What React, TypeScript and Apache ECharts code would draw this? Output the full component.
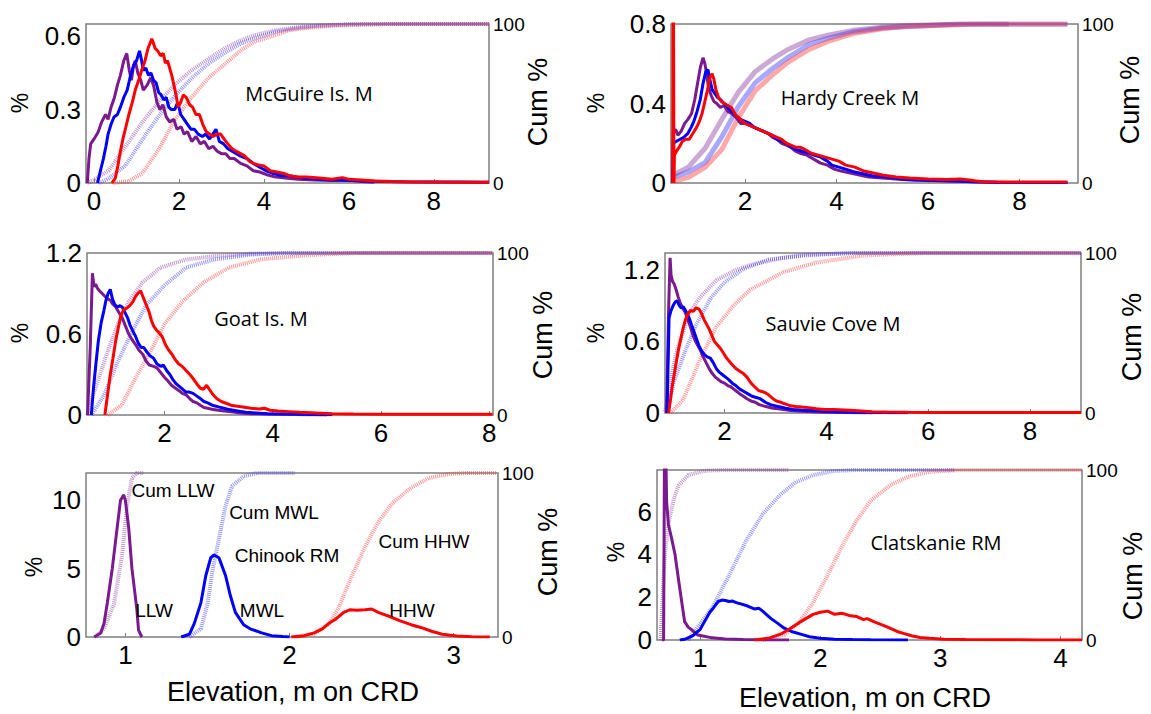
import { useEffect, useRef } from 'react';
import * as echarts from 'echarts';

type Pt = [number, number];

// ---------- Panel 1: McGuire Is. M ----------
const mcgLLW: Pt[] = [[-0.16,0],[-0.12,0.1],[-0.08,0.16],[0.0,0.18],[0.1,0.21],[0.18,0.25],[0.27,0.28],[0.33,0.26],[0.4,0.31],[0.48,0.35],[0.55,0.4],[0.62,0.44],[0.7,0.5],[0.77,0.53],[0.83,0.46],[0.88,0.42],[0.93,0.48],[0.97,0.5],[1.03,0.45],[1.1,0.42],[1.16,0.38],[1.25,0.4],[1.33,0.43],[1.4,0.4],[1.48,0.33],[1.55,0.3],[1.62,0.32],[1.7,0.27],[1.78,0.25],[1.88,0.26],[1.95,0.22],[2.05,0.23],[2.12,0.2],[2.2,0.21],[2.3,0.17],[2.4,0.19],[2.5,0.16],[2.6,0.17],[2.7,0.14],[2.8,0.15],[2.9,0.13],[3.0,0.12],[3.1,0.12],[3.2,0.1],[3.3,0.1],[3.45,0.08],[3.6,0.07],[3.75,0.05],[3.9,0.045],[4.05,0.035],[4.25,0.025],[4.5,0.02],[4.8,0.015],[5.2,0.012],[5.6,0.01],[6.0,0.012],[6.3,0.006],[6.6,0.003]];
const mcgMWL: Pt[] = [[0.08,0],[0.15,0.05],[0.22,0.1],[0.28,0.15],[0.33,0.2],[0.4,0.24],[0.47,0.27],[0.55,0.28],[0.62,0.31],[0.7,0.35],[0.78,0.38],[0.86,0.44],[0.93,0.48],[1.0,0.5],[1.07,0.54],[1.12,0.5],[1.16,0.46],[1.22,0.47],[1.28,0.44],[1.34,0.45],[1.4,0.42],[1.46,0.41],[1.52,0.37],[1.58,0.36],[1.64,0.34],[1.7,0.35],[1.76,0.31],[1.82,0.3],[1.9,0.3],[1.97,0.33],[2.04,0.28],[2.12,0.26],[2.2,0.24],[2.28,0.22],[2.36,0.22],[2.45,0.2],[2.55,0.19],[2.63,0.2],[2.72,0.18],[2.8,0.2],[2.87,0.22],[2.95,0.17],[3.05,0.16],[3.15,0.14],[3.25,0.13],[3.35,0.12],[3.45,0.11],[3.6,0.1],[3.75,0.08],[3.9,0.065],[4.05,0.05],[4.2,0.04],[4.4,0.03],[4.6,0.03],[4.75,0.025],[5.0,0.018],[5.3,0.015],[5.6,0.012],[6.0,0.01],[6.4,0.008],[6.8,0.006],[7.3,0.005],[8.0,0.004],[8.6,0.004],[9.3,0.003]];
const mcgHHW: Pt[] = [[0.42,0],[0.5,0.02],[0.56,0.07],[0.62,0.13],[0.68,0.18],[0.75,0.23],[0.82,0.28],[0.9,0.33],[0.97,0.38],[1.05,0.42],[1.12,0.46],[1.2,0.5],[1.27,0.55],[1.36,0.59],[1.4,0.57],[1.44,0.55],[1.5,0.54],[1.57,0.52],[1.63,0.53],[1.68,0.49],[1.73,0.5],[1.78,0.47],[1.83,0.44],[1.88,0.4],[1.93,0.36],[1.98,0.31],[2.04,0.33],[2.1,0.36],[2.17,0.35],[2.25,0.32],[2.32,0.31],[2.4,0.28],[2.48,0.28],[2.56,0.24],[2.64,0.21],[2.72,0.2],[2.8,0.19],[2.9,0.2],[2.98,0.2],[3.06,0.18],[3.15,0.16],[3.25,0.14],[3.35,0.13],[3.45,0.12],[3.55,0.11],[3.65,0.09],[3.75,0.08],[3.85,0.075],[4.0,0.07],[4.15,0.05],[4.3,0.045],[4.45,0.04],[4.6,0.03],[4.8,0.025],[5.0,0.025],[5.3,0.02],[5.6,0.015],[5.85,0.022],[6.0,0.015],[6.3,0.012],[6.6,0.008],[7.0,0.006],[7.5,0.004],[8.0,0.004],[8.5,0.003],[9.3,0.003]];
const mcgLLWCum: Pt[] = [[-0.15,0],[0.0,2],[0.35,8],[0.74,23],[1.13,38],[1.52,51],[1.91,62],[2.3,71],[2.69,78],[3.09,85],[3.48,90],[3.79,93],[4.26,96],[4.8,98],[5.25,99],[6.07,100],[9.3,100]];
const mcgMWLCum: Pt[] = [[0.12,0],[0.35,3],[0.74,11],[1.13,27],[1.52,42],[1.91,55],[2.3,66],[2.69,75],[3.09,82],[3.48,88],[3.79,91],[4.26,95],[4.8,97.5],[5.25,98.8],[6.07,99.7],[7.0,100],[9.3,100]];
const mcgHHWCum: Pt[] = [[0.45,0],[0.8,1],[1.13,6],[1.52,21],[1.91,40],[2.3,54],[2.69,66],[3.09,75],[3.48,84],[3.79,89],[4.26,93],[4.59,96],[5.0,97.5],[5.66,99],[6.9,100],[9.3,100]];

// ---------- Panel 2: Hardy Creek M ----------
const hcLLW: Pt[] = [[0.42,0],[0.43,0.25],[0.48,0.27],[0.53,0.24],[0.6,0.26],[0.68,0.3],[0.75,0.32],[0.83,0.35],[0.9,0.42],[0.96,0.5],[1.02,0.58],[1.08,0.63],[1.12,0.6],[1.16,0.55],[1.2,0.48],[1.26,0.44],[1.32,0.41],[1.38,0.4],[1.46,0.38],[1.54,0.39],[1.62,0.36],[1.7,0.35],[1.8,0.33],[1.9,0.3],[2.0,0.3],[2.1,0.29],[2.2,0.28],[2.3,0.27],[2.4,0.26],[2.5,0.25],[2.6,0.23],[2.7,0.22],[2.8,0.2],[2.9,0.19],[3.0,0.18],[3.1,0.16],[3.2,0.15],[3.35,0.14],[3.5,0.12],[3.65,0.1],[3.8,0.09],[3.95,0.07],[4.1,0.06],[4.3,0.05],[4.5,0.04],[4.7,0.03],[5.0,0.025],[5.3,0.02],[5.6,0.015],[6.0,0.012],[6.4,0.01],[6.8,0.008],[7.2,0.005],[7.7,0.003]];
const hcMWL: Pt[] = [[0.42,0],[0.43,0.2],[0.5,0.21],[0.58,0.22],[0.66,0.23],[0.75,0.25],[0.82,0.28],[0.88,0.31],[0.95,0.36],[1.02,0.42],[1.08,0.5],[1.14,0.56],[1.19,0.57],[1.23,0.52],[1.28,0.47],[1.34,0.45],[1.4,0.43],[1.46,0.42],[1.54,0.4],[1.62,0.38],[1.7,0.36],[1.8,0.34],[1.9,0.32],[2.0,0.31],[2.1,0.3],[2.2,0.28],[2.3,0.27],[2.4,0.26],[2.5,0.25],[2.6,0.24],[2.7,0.22],[2.8,0.21],[2.9,0.2],[3.0,0.18],[3.1,0.17],[3.25,0.16],[3.4,0.15],[3.5,0.14],[3.65,0.13],[3.8,0.11],[3.9,0.09],[4.05,0.08],[4.2,0.07],[4.4,0.055],[4.6,0.045],[4.8,0.035],[5.1,0.03],[5.4,0.02],[5.8,0.015],[6.2,0.012],[6.6,0.01],[7.0,0.006],[7.5,0.004],[8.0,0.003],[8.5,0.002],[9.05,0.002]];
const hcHHW: Pt[] = [[0.42,0],[0.43,1.3],[0.445,0],[0.455,0.14],[0.5,0.16],[0.56,0.18],[0.63,0.21],[0.7,0.22],[0.78,0.22],[0.86,0.25],[0.94,0.28],[1.0,0.31],[1.06,0.35],[1.12,0.41],[1.18,0.47],[1.23,0.53],[1.28,0.55],[1.32,0.52],[1.36,0.47],[1.42,0.43],[1.48,0.41],[1.55,0.4],[1.62,0.39],[1.7,0.38],[1.8,0.34],[1.9,0.32],[2.0,0.3],[2.1,0.29],[2.2,0.28],[2.3,0.27],[2.4,0.26],[2.5,0.25],[2.6,0.24],[2.7,0.23],[2.8,0.22],[2.9,0.2],[3.0,0.19],[3.1,0.18],[3.2,0.18],[3.3,0.17],[3.45,0.15],[3.6,0.14],[3.75,0.13],[3.9,0.12],[4.05,0.11],[4.2,0.09],[4.4,0.08],[4.6,0.06],[4.8,0.05],[5.0,0.04],[5.3,0.03],[5.6,0.025],[6.0,0.02],[6.4,0.018],[6.7,0.02],[7.0,0.012],[7.2,0.006],[7.6,0.005],[8.2,0.005],[9.05,0.005]];
const hcLLWCum: Pt[] = [[0.43,5],[0.76,10],[1.13,22],[1.49,40],[1.85,57],[2.22,70],[2.6,78],[2.94,84],[3.4,90],[3.81,93],[4.36,96],[5.0,98],[5.55,99],[6.74,100],[7.77,100]];
const hcMWLCum: Pt[] = [[0.43,3.5],[0.76,7],[1.13,13],[1.49,29],[1.85,48],[2.22,63],[2.6,72],[2.94,79],[3.4,87],[3.81,91],[4.36,95],[5.0,97.5],[5.55,98.5],[6.74,100],[9.05,100]];
const hcHHWCum: Pt[] = [[0.43,1],[0.76,3.5],[1.13,10],[1.49,21],[1.85,41],[2.22,58],[2.6,68],[2.94,76],[3.4,84],[3.81,89],[4.36,94],[5.0,97],[5.55,98.5],[7.13,100],[9.05,100]];

// ---------- Panel 3: Goat Is. M ----------
const goatLLW: Pt[] = [[0.58,0],[0.63,0.5],[0.67,1.05],[0.7,0.95],[0.73,0.97],[0.76,0.94],[0.8,0.92],[0.85,0.9],[0.9,0.88],[0.95,0.86],[1.0,0.85],[1.05,0.82],[1.1,0.8],[1.16,0.76],[1.22,0.72],[1.28,0.66],[1.34,0.6],[1.4,0.56],[1.47,0.52],[1.53,0.48],[1.6,0.45],[1.66,0.4],[1.72,0.37],[1.8,0.36],[1.86,0.35],[1.92,0.32],[2.0,0.28],[2.07,0.25],[2.13,0.22],[2.2,0.2],[2.27,0.18],[2.33,0.16],[2.4,0.15],[2.47,0.12],[2.53,0.1],[2.6,0.09],[2.67,0.07],[2.73,0.055],[2.8,0.05],[2.9,0.04],[3.0,0.035],[3.1,0.03],[3.2,0.025],[3.4,0.015],[3.6,0.01],[3.9,0.007],[4.2,0.005],[4.6,0.002],[5.0,0]];
const goatMWL: Pt[] = [[0.65,0],[0.69,0.2],[0.74,0.4],[0.78,0.55],[0.83,0.68],[0.88,0.77],[0.92,0.85],[0.96,0.9],[1.0,0.93],[1.04,0.86],[1.08,0.82],[1.13,0.8],[1.18,0.81],[1.22,0.8],[1.27,0.76],[1.32,0.72],[1.37,0.66],[1.42,0.62],[1.47,0.58],[1.52,0.53],[1.57,0.5],[1.62,0.5],[1.67,0.47],[1.73,0.44],[1.8,0.42],[1.86,0.38],[1.93,0.36],[1.98,0.37],[2.04,0.33],[2.1,0.3],[2.16,0.26],[2.22,0.23],[2.28,0.21],[2.34,0.19],[2.4,0.17],[2.46,0.17],[2.53,0.16],[2.6,0.14],[2.67,0.12],[2.73,0.1],[2.8,0.09],[2.9,0.07],[3.0,0.06],[3.1,0.05],[3.2,0.04],[3.35,0.03],[3.5,0.02],[3.7,0.015],[3.9,0.01],[4.2,0.008],[4.5,0.005],[4.8,0.003],[5.1,0.002]];
const goatHHW: Pt[] = [[0.9,0],[0.95,0.15],[1.0,0.3],[1.05,0.42],[1.1,0.55],[1.15,0.65],[1.2,0.74],[1.25,0.78],[1.3,0.79],[1.36,0.81],[1.42,0.84],[1.47,0.88],[1.51,0.9],[1.56,0.92],[1.6,0.88],[1.64,0.84],[1.68,0.8],[1.72,0.76],[1.76,0.7],[1.8,0.66],[1.85,0.63],[1.9,0.61],[1.96,0.58],[2.02,0.52],[2.08,0.48],[2.14,0.45],[2.2,0.41],[2.26,0.38],[2.33,0.36],[2.4,0.33],[2.47,0.3],[2.53,0.27],[2.6,0.23],[2.66,0.2],[2.72,0.19],[2.78,0.22],[2.83,0.19],[2.9,0.15],[2.97,0.12],[3.05,0.1],[3.15,0.085],[3.25,0.07],[3.35,0.065],[3.45,0.06],[3.6,0.05],[3.75,0.045],[3.85,0.05],[3.95,0.035],[4.1,0.03],[4.3,0.025],[4.5,0.02],[4.8,0.015],[5.1,0.01],[5.5,0.008],[6.0,0.006],[6.5,0.005],[7.0,0.005],[7.5,0.005],[8.06,0.005]];
const goatLLWCum: Pt[] = [[0.58,0],[0.65,9],[0.75,19],[0.95,39],[1.14,56],[1.34,70],[1.6,82],[1.93,91],[2.4,96],[2.92,98],[3.58,99.5],[4.24,100],[8.06,100]];
const goatMWLCum: Pt[] = [[0.65,0],[0.88,12],[1.14,33],[1.41,52],[1.67,68],[2.0,80],[2.4,91],[2.92,96],[3.58,99],[4.24,100],[8.06,100]];
const goatHHWCum: Pt[] = [[0.95,0],[1.21,6],[1.47,23],[1.74,39],[2.0,56],[2.33,70],[2.73,82],[3.19,91],[3.78,96],[4.57,98.5],[5.56,100],[8.06,100]];

// ---------- Panel 4: Sauvie Cove M ----------
const sauvLLW: Pt[] = [[0.86,0],[0.88,0.4],[0.9,0.85],[0.93,1.3],[0.95,1.15],[0.98,1.1],[1.01,1.08],[1.05,1.03],[1.09,0.97],[1.13,0.92],[1.18,0.88],[1.23,0.84],[1.28,0.78],[1.33,0.72],[1.38,0.65],[1.43,0.6],[1.48,0.56],[1.53,0.52],[1.58,0.47],[1.64,0.42],[1.7,0.37],[1.76,0.33],[1.82,0.3],[1.88,0.28],[1.94,0.26],[2.0,0.25],[2.06,0.23],[2.12,0.22],[2.18,0.2],[2.24,0.18],[2.3,0.16],[2.37,0.14],[2.44,0.12],[2.52,0.1],[2.6,0.09],[2.68,0.07],[2.76,0.06],[2.85,0.05],[2.95,0.04],[3.05,0.035],[3.16,0.03],[3.3,0.02],[3.5,0.015],[3.7,0.01],[4.0,0.007],[4.3,0.005],[4.6,0.002],[4.9,0]];
const sauvMWL: Pt[] = [[0.87,0],[0.89,0.4],[0.91,0.8],[0.95,0.86],[0.99,0.9],[1.03,0.93],[1.07,0.94],[1.11,0.9],[1.15,0.88],[1.19,0.89],[1.23,0.86],[1.27,0.83],[1.31,0.79],[1.35,0.74],[1.4,0.68],[1.45,0.62],[1.5,0.56],[1.55,0.52],[1.6,0.49],[1.66,0.47],[1.72,0.46],[1.78,0.42],[1.84,0.37],[1.9,0.34],[1.96,0.32],[2.02,0.3],[2.08,0.28],[2.15,0.25],[2.22,0.23],[2.3,0.2],[2.38,0.18],[2.46,0.16],[2.54,0.14],[2.62,0.13],[2.7,0.12],[2.8,0.09],[2.9,0.07],[3.0,0.06],[3.1,0.05],[3.2,0.04],[3.35,0.03],[3.5,0.025],[3.7,0.02],[3.9,0.015],[4.15,0.01],[4.5,0.007],[4.9,0.005],[5.3,0.003],[5.6,0.002]];
const sauvHHW: Pt[] = [[0.9,0],[0.94,0.12],[0.97,0.22],[1.01,0.32],[1.05,0.42],[1.09,0.52],[1.13,0.6],[1.18,0.7],[1.23,0.78],[1.28,0.83],[1.33,0.86],[1.38,0.85],[1.44,0.88],[1.5,0.87],[1.55,0.83],[1.6,0.78],[1.65,0.74],[1.7,0.7],[1.75,0.65],[1.8,0.6],[1.86,0.57],[1.92,0.54],[1.98,0.5],[2.04,0.46],[2.1,0.43],[2.16,0.4],[2.23,0.37],[2.3,0.35],[2.37,0.33],[2.44,0.3],[2.52,0.25],[2.59,0.22],[2.66,0.19],[2.73,0.18],[2.8,0.17],[2.87,0.15],[2.95,0.12],[3.02,0.1],[3.1,0.09],[3.2,0.075],[3.3,0.06],[3.4,0.055],[3.52,0.05],[3.65,0.045],[3.8,0.035],[3.95,0.03],[4.15,0.03],[4.35,0.025],[4.55,0.02],[4.75,0.015],[4.9,0.01],[5.2,0.008],[5.6,0.006],[6.0,0.005],[6.5,0.005],[7.0,0.004],[7.5,0.004],[8.0,0.004],[8.5,0.004],[9.0,0.004]];
const sauvLLWCum: Pt[] = [[0.83,1],[0.91,14],[1.0,30],[1.08,41],[1.18,50],[1.3,62],[1.51,72],[1.84,83],[2.2,89],[2.5,92.5],[3.15,97],[3.59,99],[4.52,100],[9.0,100]];
const sauvMWLCum: Pt[] = [[0.87,0],[1.01,20],[1.23,39],[1.44,55],[1.73,72],[2.01,82],[2.37,90],[2.87,96],[3.59,98.5],[4.52,100],[9.0,100]];
const sauvHHWCum: Pt[] = [[0.94,0],[1.18,8],[1.37,22],[1.51,33],[1.84,54],[2.17,67],[2.5,77],[3.15,88],[3.8,94],[4.74,98.5],[5.96,100],[9.0,100]];

// ---------- Panel 5: Chinook RM ----------
const chLLW: Pt[] = [[0.81,0],[0.85,0.3],[0.87,1.0],[0.89,2.5],[0.92,5],[0.95,8],[0.97,10],[0.99,10.4],[1.0,10],[1.02,8],[1.04,5],[1.07,2],[1.08,0.5],[1.1,0]];
const chLLWCum: Pt[] = [[0.82,0],[0.87,5],[0.93,20],[0.98,50],[1.01,80],[1.04,97],[1.07,100],[1.11,100]];
const chMWL: Pt[] = [[1.34,0],[1.39,0.2],[1.42,1],[1.46,2.5],[1.49,4.5],[1.52,5.8],[1.54,6],[1.57,5.8],[1.61,4.5],[1.64,3],[1.67,1.8],[1.72,0.9],[1.76,0.6],[1.83,0.3],[1.89,0.1],[1.96,0.03],[2.0,0]];
const chMWLCum: Pt[] = [[1.39,0],[1.46,5],[1.5,20],[1.53,40],[1.57,60],[1.61,80],[1.65,92],[1.72,98],[1.8,100],[2.03,100]];
const chHHW: Pt[] = [[2.01,0],[2.09,0.1],[2.15,0.3],[2.2,0.6],[2.24,1.0],[2.28,1.3],[2.33,1.8],[2.37,2.0],[2.41,1.95],[2.46,2.0],[2.5,2.05],[2.54,1.8],[2.61,1.5],[2.67,1.2],[2.74,0.9],[2.8,0.7],[2.87,0.4],[2.93,0.2],[3.02,0.08],[3.11,0.02],[3.22,0]];
const chHHWCum: Pt[] = [[2.04,0],[2.15,2],[2.24,8],[2.3,18],[2.37,35],[2.46,55],[2.54,70],[2.63,82],[2.74,91],[2.85,97],[2.98,99.5],[3.07,100],[3.26,100]];

// ---------- Panel 6: Clatskanie RM ----------
const clLLW: Pt[] = [[0.68,0],[0.695,0],[0.705,12],[0.72,6.5],[0.735,5.4],[0.76,4.8],[0.79,4.0],[0.83,2.4],[0.87,0.86],[0.9,0.6],[0.93,0.47],[0.98,0.23],[1.1,0.1],[1.21,0.05],[1.36,0.02],[1.52,0],[1.74,0]];
const clLLWCum: Pt[] = [[0.67,0],[0.69,30],[0.71,54],[0.74,70],[0.78,83],[0.82,91],[0.9,97],[1.04,99.6],[1.2,100],[1.74,100]];
const clMWL: Pt[] = [[0.83,0],[0.88,0.05],[0.94,0.2],[1.0,0.5],[1.05,1.0],[1.08,1.3],[1.11,1.5],[1.15,1.8],[1.18,1.87],[1.21,1.85],[1.24,1.8],[1.27,1.82],[1.3,1.75],[1.33,1.7],[1.39,1.6],[1.45,1.45],[1.49,1.48],[1.52,1.35],[1.55,1.2],[1.59,1.0],[1.64,0.8],[1.7,0.55],[1.76,0.4],[1.85,0.25],[1.91,0.15],[2.0,0.08],[2.12,0.04],[2.27,0.02],[2.42,0.01],[2.73,0]];
const clMWLCum: Pt[] = [[0.9,0],[0.95,5],[1.1,19],[1.24,38],[1.38,58],[1.52,74],[1.66,85],[1.8,93],[1.94,97],[2.12,99.5],[2.3,100],[3.12,100]];
const clHHW: Pt[] = [[1.45,0],[1.58,0.1],[1.68,0.3],[1.74,0.5],[1.82,0.8],[1.88,1.0],[1.94,1.2],[2.0,1.3],[2.06,1.35],[2.12,1.2],[2.18,1.25],[2.24,1.15],[2.3,1.1],[2.36,0.95],[2.39,1.0],[2.45,0.85],[2.52,0.7],[2.58,0.55],[2.64,0.4],[2.7,0.3],[2.76,0.2],[2.83,0.12],[2.91,0.08],[3.03,0.04],[3.21,0.02],[3.48,0.01],[3.8,0.005],[4.18,0.005]];
const clHHWCum: Pt[] = [[1.52,0],[1.7,3],[1.82,10],[1.94,22],[2.06,38],[2.18,55],[2.3,70],[2.42,82],[2.58,91],[2.73,96],[2.91,99],[3.18,100],[4.18,100]];

// ---------- Axes ----------
const panelNames = ['McGuire Is. M', 'Hardy Creek M', 'Goat Is. M', 'Sauvie Cove M', 'Chinook RM', 'Clatskanie RM'];
const xRanges: [number, number][] = [[-0.19, 9.3], [0.38, 9.28], [0.57, 8.07], [0.83, 9.0], [0.76, 3.27], [0.64, 4.18]];
const yMaxes = [0.65, 0.8, 1.2, 1.34, 12, 7.95];
const xTickLabels = [[0, 2, 4, 6, 8], [2, 4, 6, 8], [2, 4, 6, 8], [2, 4, 6, 8], [1, 2, 3], [1, 2, 3, 4]];
const yTickLabels = [[0, 0.3, 0.6], [0, 0.4, 0.8], [0, 0.6, 1.2], [0, 0.6, 1.2], [0, 5, 10], [0, 2, 4, 6]];
const cumTickLabels = [0, 100];
const pctData = [
  [mcgLLW, mcgMWL, mcgHHW],
  [hcLLW, hcMWL, hcHHW],
  [goatLLW, goatMWL, goatHHW],
  [sauvLLW, sauvMWL, sauvHHW],
  [chLLW, chMWL, chHHW],
  [clLLW, clMWL, clHHW],
];
const cumData = [
  [mcgLLWCum, mcgMWLCum, mcgHHWCum],
  [hcLLWCum, hcMWLCum, hcHHWCum],
  [goatLLWCum, goatMWLCum, goatHHWCum],
  [sauvLLWCum, sauvMWLCum, sauvHHWCum],
  [chLLWCum, chMWLCum, chHHWCum],
  [clLLWCum, clMWLCum, clHHWCum],
];
const levelNames = ['LLW', 'MWL', 'HHW'];
const xAxisTitle = 'Elevation, m on CRD';

// ---------- Layout / style ----------
const grids = [
  { left: 86, top: 24, width: 403, height: 159 },
  { left: 671, top: 24, width: 407, height: 159 },
  { left: 87, top: 253, width: 406, height: 162 },
  { left: 665, top: 253, width: 416, height: 160 },
  { left: 86, top: 473, width: 412, height: 164 },
  { left: 657, top: 470, width: 425, height: 170 },
];
const colors = ['#7A1A8E', '#0000FF', '#FF0000'];
const cumColors = ['#8E3FA0', '#3F3FFF', '#FF3F3F'];
const titlePos: [number, number][] = [[309, 93], [850, 97], [261, 318], [833, 323], [287, 555], [936, 542]];
const pctPos: [number, number][] = [[20, 103], [596, 103], [20, 333], [596, 333], [34, 567], [616, 552]];
const cumPos: [number, number][] = [[538, 102], [1130, 100], [543, 335], [1132, 337], [548, 552], [1133, 576]];
const FONT = 'Arial, "Liberation Sans", sans-serif';
const TITLE_FONT = '"Open Sans", "Noto Sans", sans-serif';

function txt(text: string, x: number, y: number, fontSize: number, fontFamily: string, rotation = 0) {
  return {
    type: 'text', x, y, rotation, z: 10,
    style: { text, fontSize, fontFamily, fill: '#000', align: 'center', verticalAlign: 'middle', textAlign: 'center', textVerticalAlign: 'middle' },
  };
}

function buildOption() {
  const grid: any[] = [];
  const xAxis: any[] = [];
  const yAxis: any[] = [];
  const series: any[] = [];
  const graphic: any[] = [];

  grids.forEach((g, i) => {
    grid.push({ ...g, show: true, borderColor: '#7f7f7f', borderWidth: 1.5, backgroundColor: 'transparent' });
    xAxis.push({
      type: 'value', gridIndex: i, min: xRanges[i][0], max: xRanges[i][1],
      axisLine: { show: false },
      axisTick: { show: true, inside: true, length: 4, customValues: xTickLabels[i], lineStyle: { color: '#7f7f7f', width: 1 } },
      splitLine: { show: false },
      axisLabel: { customValues: xTickLabels[i], fontSize: 26, color: '#000', fontFamily: FONT, margin: 5 },
    });
    yAxis.push({
      type: 'value', gridIndex: i, min: 0, max: yMaxes[i], position: 'left',
      axisLine: { show: false }, axisTick: { show: false }, splitLine: { show: false },
      axisLabel: { customValues: yTickLabels[i], fontSize: 26, color: '#000', fontFamily: FONT, margin: 5 },
    });
    yAxis.push({
      type: 'value', gridIndex: i, min: 0, max: 100, position: 'right',
      axisLine: { show: false }, axisTick: { show: false }, splitLine: { show: false },
      axisLabel: { customValues: cumTickLabels, fontSize: 19, color: '#000', fontFamily: FONT, margin: 4 },
    });
    const solidCum = i === 1;
    cumData[i].forEach((d, k) => {
      series.push({
        type: 'line', name: 'Cum ' + levelNames[k], xAxisIndex: i, yAxisIndex: 2 * i + 1,
        data: d, showSymbol: false, symbol: 'none', silent: true, z: 2,
        lineStyle: solidCum
          ? { color: cumColors[k], width: 5, opacity: 0.45 }
          : { color: cumColors[k], width: 4, opacity: 0.55, type: [1, 1] },
      });
    });
    pctData[i].forEach((d, k) => {
      series.push({
        type: 'line', name: levelNames[k], xAxisIndex: i, yAxisIndex: 2 * i,
        data: d, showSymbol: false, symbol: 'none', silent: true, z: 3,
        lineStyle: { color: colors[k], width: 3 },
      });
    });
    graphic.push(txt(panelNames[i], titlePos[i][0], titlePos[i][1], i === 4 ? 19 : 20, i === 4 ? FONT : TITLE_FONT));
    graphic.push(txt('%', pctPos[i][0], pctPos[i][1], 23, FONT, Math.PI / 2));
    graphic.push(txt('Cum %', cumPos[i][0], cumPos[i][1], 27, FONT, Math.PI / 2));
  });

  const chinookLabels: [string, number, number][] = [
    ['Cum LLW', 173, 490], ['Cum MWL', 274, 512], ['Cum HHW', 424, 541],
    ['LLW', 154, 610], ['MWL', 262, 610], ['HHW', 412, 610],
  ];
  chinookLabels.forEach(([t, x, y]) => graphic.push(txt(t, x, y, 19, FONT)));
  graphic.push(txt(xAxisTitle, 293, 692, 27, FONT));
  graphic.push(txt(xAxisTitle, 865, 698, 27, FONT));

  return { animation: false, backgroundColor: '#fff', grid, xAxis, yAxis, series, graphic };
}

export default function App() {
  const ref = useRef<HTMLDivElement>(null);
  useEffect(() => {
    const chart = echarts.init(ref.current as HTMLDivElement, null, { renderer: 'svg' });
    chart.setOption(buildOption() as any);
    return () => chart.dispose();
  }, []);
  return <div ref={ref} style={{ position: 'absolute', left: 0, top: 0, width: 1151, height: 714, background: '#fff' }} />;
}
